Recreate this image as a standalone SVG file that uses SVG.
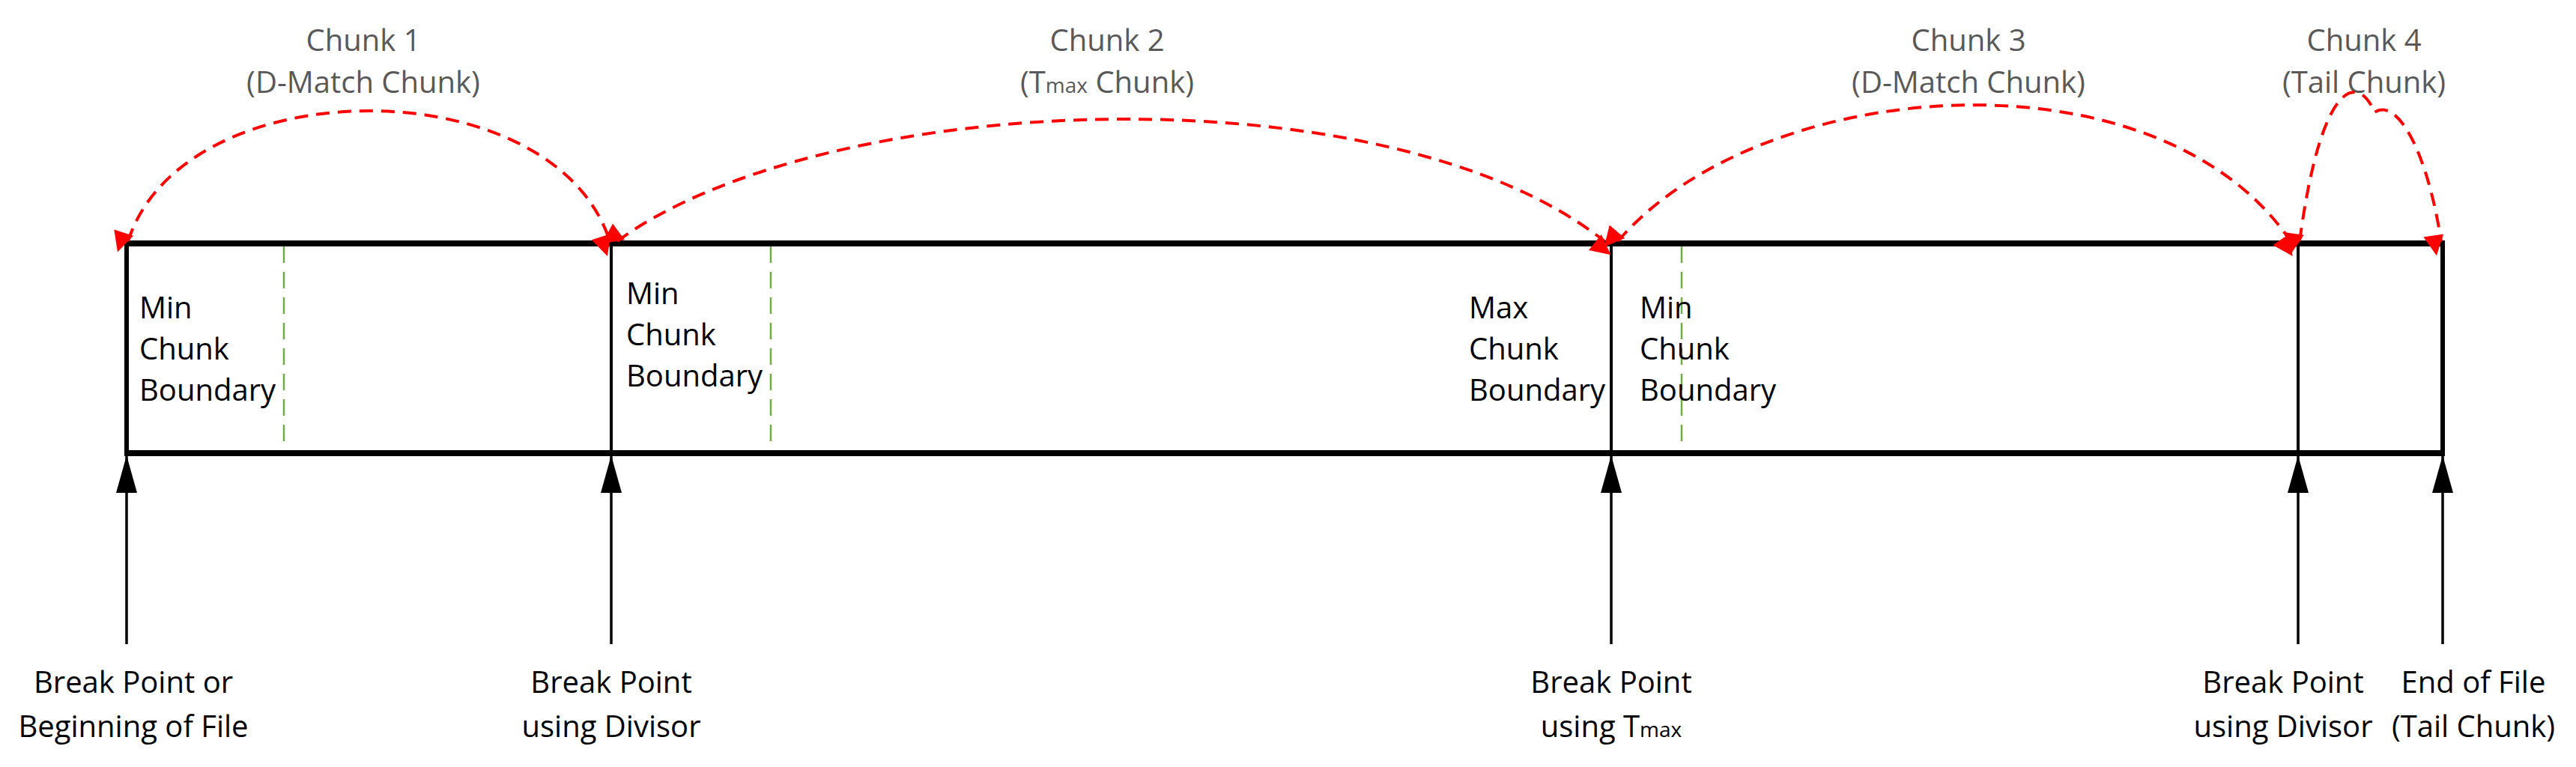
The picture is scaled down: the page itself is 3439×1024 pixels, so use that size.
<svg xmlns="http://www.w3.org/2000/svg" width="3439" height="1024" viewBox="0 0 3439 1024">
<style>
text{font-family:"Open Sans","Liberation Sans",sans-serif;font-size:40px;fill:#000}
.t{fill:#595959;text-anchor:middle}
.b{text-anchor:middle}
.red{fill:none;stroke:#FF0000;stroke-width:4;stroke-dasharray:18 11}
.grn{stroke:#70AD47;stroke-width:2.5;stroke-dasharray:22 12}
.up{stroke:#000;stroke-width:3.5}
</style>
<defs>
<marker id="rh" viewBox="0 0 10 10" refX="10" refY="5" markerWidth="9" markerHeight="9" markerUnits="userSpaceOnUse" orient="auto-start-reverse" style="overflow:visible"><path d="M0,0 L10,5 L0,10 z" fill="#FF0000" transform="scale(3)"/></marker>
<marker id="bh" viewBox="0 0 10 10" refX="10" refY="5" markerWidth="50" markerHeight="28" markerUnits="userSpaceOnUse" orient="auto" preserveAspectRatio="none"><path d="M0,0 L10,5 L0,10 z" fill="#000"/></marker>
</defs>
<g id="box">
<rect x="169" y="325" width="3092" height="280" fill="#fff" stroke="none"/>
<line x1="166" y1="325" x2="3264" y2="325" stroke="#000" stroke-width="8"/>
<line x1="166" y1="605" x2="3264" y2="605" stroke="#000" stroke-width="8"/>
<line x1="169" y1="325" x2="169" y2="605" stroke="#000" stroke-width="6"/>
<line x1="3261" y1="325" x2="3261" y2="605" stroke="#000" stroke-width="6"/>
<line x1="816" y1="325" x2="816" y2="605" stroke="#000" stroke-width="4"/>
<line x1="2151" y1="325" x2="2151" y2="605" stroke="#000" stroke-width="4"/>
<line x1="3068" y1="325" x2="3068" y2="605" stroke="#000" stroke-width="4"/>
<line class="grn" x1="379" y1="329" x2="379" y2="601"/>
<line class="grn" x1="1029" y1="329" x2="1029" y2="601"/>
<line class="grn" x1="2245" y1="329" x2="2245" y2="601"/>
</g>
<g id="seg1"><text x="186" y="425">Min</text><text x="186" y="480">Chunk</text><text x="186" y="535">Boundary</text></g>
<g id="seg2"><text x="836" y="406">Min</text><text x="836" y="461">Chunk</text><text x="836" y="516">Boundary</text></g>
<g id="seg3"><text x="1961" y="425">Max</text><text x="1961" y="480">Chunk</text><text x="1961" y="535">Boundary</text></g>
<g id="seg4"><text x="2189" y="425">Min</text><text x="2189" y="480">Chunk</text><text x="2189" y="535">Boundary</text></g>
<g id="titles">
<g id="chunk1"><text class="t" x="485" y="68">Chunk 1</text><text class="t" x="485" y="124">(D-Match Chunk)</text></g>
<g id="chunk2"><text class="t" x="1478" y="68">Chunk 2</text><text class="t" x="1478" y="124">(T<tspan font-size="28">max</tspan> Chunk)</text></g>
<g id="chunk3"><text class="t" x="2628" y="68">Chunk 3</text><text class="t" x="2628" y="124">(D-Match Chunk)</text></g>
<g id="chunk4"><text class="t" x="3156" y="68">Chunk 4</text><text class="t" x="3156" y="124">(Tail Chunk)</text></g>
</g>
<g id="connectors">
<path class="red" d="M171,322 C245,90 740,90 814,322" marker-start="url(#rh)" marker-end="url(#rh)"/>
<path class="red" d="M824,322 C1100,120 1850,90 2142,322" marker-start="url(#rh)" marker-end="url(#rh)"/>
<path class="red" d="M2160,322 C2350,100 2880,60 3058,322" marker-start="url(#rh)" marker-end="url(#rh)"/>
<path class="red" d="M3070,322 C3100,100 3150,100 3170,150 C3200,130 3240,200 3259,322" marker-start="url(#rh)" marker-end="url(#rh)"/>
<line class="up" x1="169" y1="860" x2="169" y2="608" marker-end="url(#bh)"/>
<line class="up" x1="816" y1="860" x2="816" y2="608" marker-end="url(#bh)"/>
<line class="up" x1="2151" y1="860" x2="2151" y2="608" marker-end="url(#bh)"/>
<line class="up" x1="3068" y1="860" x2="3068" y2="608" marker-end="url(#bh)"/>
<line class="up" x1="3261" y1="860" x2="3261" y2="608" marker-end="url(#bh)"/>
</g>
<g id="labels">
<g id="l1"><text class="b" x="178" y="925">Break Point or</text><text class="b" x="178" y="984">Beginning of File</text></g>
<g id="l2"><text class="b" x="816" y="925">Break Point</text><text class="b" x="816" y="984">using Divisor</text></g>
<g id="l3"><text class="b" x="2151" y="925">Break Point</text><text class="b" x="2151" y="984">using T<tspan font-size="28">max</tspan></text></g>
<g id="l4"><text class="b" x="3048" y="925">Break Point</text><text class="b" x="3048" y="984">using Divisor</text></g>
<g id="l5"><text class="b" x="3302" y="925">End of File</text><text class="b" x="3302" y="984">(Tail Chunk)</text></g>
</g>
</svg>
